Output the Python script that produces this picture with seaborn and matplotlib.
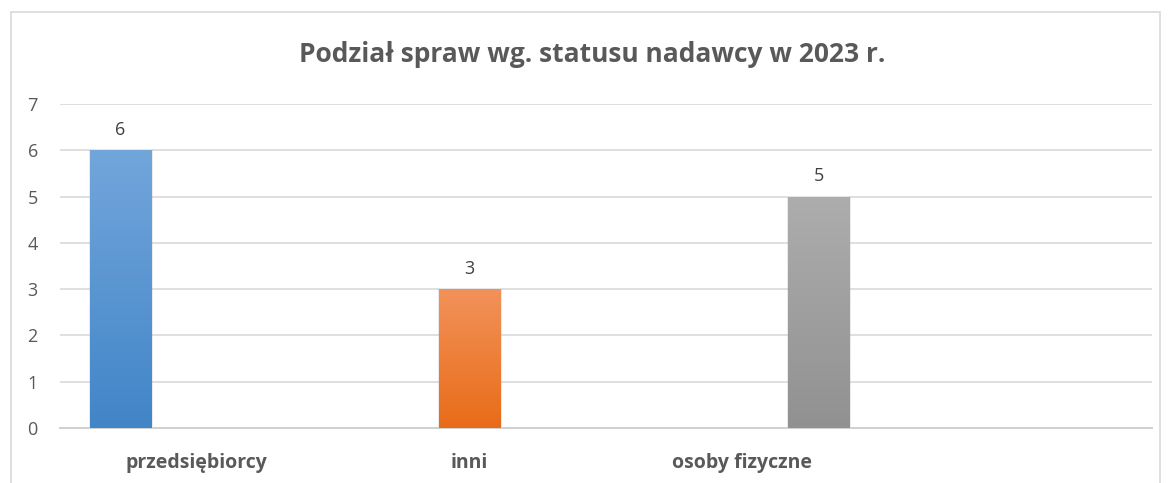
import numpy as np
import pandas as pd
import seaborn as sns
import matplotlib.pyplot as plt
from matplotlib.colors import LinearSegmentedColormap, to_rgb
from matplotlib.patches import Rectangle

# chart data
categories = ["przedsiębiorcy", "inni", "osoby fizyczne"]
values = [6, 3, 5]
title = "Podział spraw wg. statusu nadawcy w 2023 r."

# gradient colours per series (top, bottom)
grads = [("#72A6DB", "#4185C8"), ("#F2925A", "#E86C18"), ("#ADADAD", "#919191")]

df = pd.DataFrame({"kategoria": categories, "liczba": values, "seria": categories})

sns.set_style("white")
plt.rcParams["font.family"] = ["Open Sans", "DejaVu Sans"]

fig = plt.figure(figsize=(11.71, 4.83), dpi=100)
ax = fig.add_axes([60 / 1171, 55 / 483, 1092 / 1171, 324 / 483])

sns.barplot(data=df, x="kategoria", y="liczba", hue="seria", order=categories,
            hue_order=categories, dodge=True, width=0.835, gap=0.195,
            palette=[g[1] for g in grads], legend=False, ax=ax, zorder=3)

# paint vertical gradients over the bars
for patch in ax.patches:
    if patch.get_height() <= 0:
        continue
    fc = patch.get_facecolor()
    idx = min(range(3), key=lambda i: sum(abs(a - b) for a, b in zip(fc[:3], to_rgb(grads[i][1]))))
    cmap = LinearSegmentedColormap.from_list("g", [grads[idx][1], grads[idx][0]])
    x0, y0 = patch.get_x(), patch.get_y()
    w, h = patch.get_width(), patch.get_height()
    # soft shadow
    ax.add_patch(Rectangle((x0 - 0.004, y0 - 0.03), w + 0.01, h + 0.03, facecolor="#000000",
                           alpha=0.10, lw=0, zorder=2.5))
    im = ax.imshow(np.linspace(0, 1, 256).reshape(-1, 1), cmap=cmap, aspect="auto",
                   extent=(x0, x0 + w, y0, y0 + h), origin="lower", zorder=3.5)
    im.set_clip_path(patch)
    ax.text(x0 + w / 2, y0 + h + 0.25, f"{int(h)}", ha="center", va="bottom",
            fontsize=13, color="#404040", zorder=5)

ax.set_xlim(-0.5, 3.5)
ax.set_ylim(0, 7)
ax.set_yticks(range(0, 8))
ax.yaxis.grid(True, color="#D9D9D9", lw=1.2)
ax.set_axisbelow(True)
for s in ["top", "right", "left"]:
    ax.spines[s].set_visible(False)
ax.spines["bottom"].set_color("#D0D0D0")
ax.spines["bottom"].set_linewidth(1.4)
ax.tick_params(axis="y", length=0, pad=16, labelsize=13, labelcolor="#595959")
ax.tick_params(axis="x", length=0, pad=18, labelsize=14, labelcolor="#595959")
for lbl in ax.get_xticklabels():
    lbl.set_fontweight("bold")
ax.set_xlabel("")
ax.set_ylabel("")

fig.text(0.506, 1 - 54 / 483, title, ha="center", va="center", fontsize=19,
         fontweight="bold", color="#595959")

# outer chart frame
fig.add_artist(Rectangle((11 / 1171, -0.05), (1160 - 11) / 1171, 1.05 - 12 / 483,
                         transform=fig.transFigure, fill=False, edgecolor="#D9D9D9", lw=1.2))

fig.savefig("out.png", dpi=100)
